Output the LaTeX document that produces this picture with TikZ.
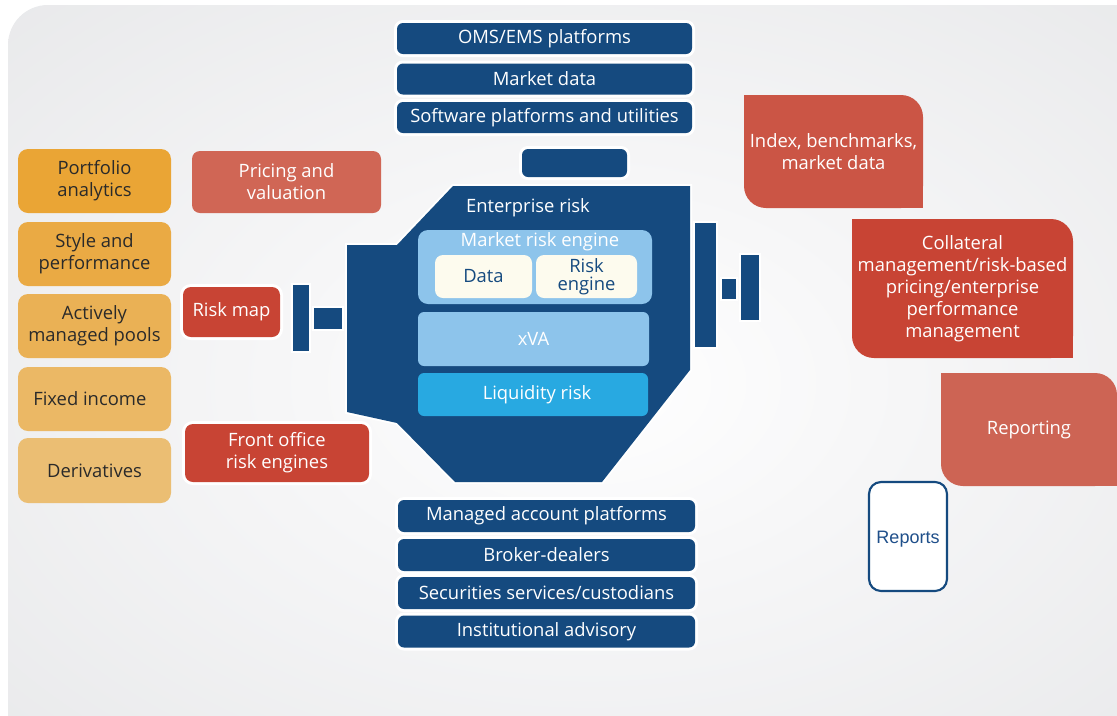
\documentclass[tikz,border=0pt]{standalone}
\usepackage{fontspec}
\setmainfont{Open Sans}
\newfontfamily\reportsfont{Liberation Sans}
\usetikzlibrary{calc}

\definecolor{navy}{HTML}{154A7F}
\definecolor{skyblue}{HTML}{8DC4EB}
\definecolor{liqblue}{HTML}{28A9E1}
\definecolor{cream}{HTML}{FDFBEE}
\definecolor{bggray}{HTML}{E0E1E3}
\definecolor{bgmid}{HTML}{F7F7F8}
\definecolor{orA}{HTML}{EAA535}
\definecolor{orB}{HTML}{EAAA44}
\definecolor{orC}{HTML}{EAB155}
\definecolor{orD}{HTML}{EBB865}
\definecolor{orE}{HTML}{EBBE73}
\definecolor{salmon}{HTML}{D06655}
\definecolor{brick}{HTML}{C84434}
\definecolor{idxred}{HTML}{CB5545}
\definecolor{repred}{HTML}{CD6454}
\definecolor{darktext}{HTML}{2A2A2A}
\definecolor{reptext}{HTML}{1F4F8A}

% soft light centre fading to grey at the edges
\pgfdeclareradialshading{backdrop}{\pgfpoint{0bp}{0bp}}{color(0bp)=(white); color(12bp)=(bgmid); color(50bp)=(bggray)}

\begin{document}
\begin{tikzpicture}[x=0.75pt, y=-0.75pt,
  sz/.style 2 args={minimum width=#1*0.75pt, minimum height=#2*0.75pt},
  base/.style={rectangle, inner sep=0pt, outer sep=0pt, align=center,
    font=\fontsize{13.8}{16.5}\selectfont},
  halo/.style={preaction={draw=white, line width=4.5pt}},
  navybox/.style={base, halo, fill=navy, text=white, rounded corners=4.5pt},
  orangebox/.style={base, text=darktext, rounded corners=7.5pt},
  redbox/.style={base, text=white, rounded corners=6pt},
  bigred/.style={base, text=white, rounded corners=16.5pt},
  plug/.style={fill=navy, preaction={draw=white, line width=3.5pt}},
]
\useasboundingbox (0,0) rectangle (1117,715);
\fill[white] (0,0) rectangle (1117,715);
\path[shading=backdrop, rounded corners=30pt] (8,5) rectangle (1170,760);

% ---- upstream providers
\node[navybox, sz={295}{31}] (oms) at (544.5,38.5) {OMS/EMS platforms};
\node[navybox, sz={295}{31}] (mkt) at (544.5,79) {Market data};
\node[navybox, sz={295}{31}] (sw)  at (544.5,117.5) {Software platforms and utilities};
\node[navybox, sz={105}{28}] (topplug) at (574.5,163) {};

% ---- downstream providers
\node[navybox, sz={297}{32}] (map) at (546.5,516) {Managed account platforms};
\node[navybox, sz={297}{32}] (bd)  at (546.5,555) {Broker-dealers};
\node[navybox, sz={297}{32}] (ssc) at (546.5,593) {Securities services/custodians};
\node[navybox, sz={297}{32}] (ia)  at (546.5,631.5) {Institutional advisory};

% ---- enterprise risk hub
\fill[navy, preaction={draw=white, line width=3pt}]
  (453,186) -- (690,186) -- (690,370) -- (602,482) -- (455,482)
  -- (397,423) -- (347,412) -- (347,245) -- (397,245) -- cycle;
\node[base, text=white] (ent) at (528,208) {Enterprise risk};
\node[base, fill=skyblue, rounded corners=7.5pt, sz={234}{74}] (mre) at (535,267) {};
\node[base, text=white] (mretitle) at (540,242) {Market risk engine};
\node[base, fill=cream, text=navy, rounded corners=6pt, sz={97}{43}] (data) at (483.5,276.5) {Data};
\node[base, fill=cream, text=navy, rounded corners=6pt, sz={101}{43},
  font=\fontsize{13.8}{13.5}\selectfont] (reng) at (586.5,276.5) {Risk\\engine};
\node[base, fill=skyblue, text=white, rounded corners=4.5pt, sz={231}{54}] (xva) at (533.5,339) {xVA};
\node[base, fill=liqblue, text=white, rounded corners=4.5pt, sz={230}{43}] (liq) at (533,394.5) {\hspace*{6pt}Liquidity risk};

% ---- plug bars on both sides of the hub
\path[plug] (293,285) rectangle (309,351);
\path[plug] (314,308) rectangle (342,329);
\path[plug] (695,223) rectangle (716,347);
\path[plug] (722,279) rectangle (736,299);
\path[plug] (741,255) rectangle (759,320);

% ---- asset classes
\node[orangebox, fill=orA, sz={153}{64}] (pa) at (94.5,181) {Portfolio\\analytics};
\node[orangebox, fill=orB, sz={153}{64}] (sp) at (94.5,254) {Style and\\performance};
\node[orangebox, fill=orC, sz={153}{64}] (am) at (94.5,326) {Actively\\managed pools};
\node[orangebox, fill=orD, sz={153}{64}] (fi) at (94.5,399) {Fixed income\hspace*{7pt}};
\node[orangebox, fill=orE, sz={153}{65}] (dv) at (94.5,470.5) {Derivatives};

% ---- front-office functions
\node[redbox, fill=salmon, sz={189}{62}] (pv) at (286.5,182) {Pricing and\\valuation};
\node[redbox, halo, fill=brick, sz={97}{50}] (rm) at (231.5,312) {Risk map};
\node[redbox, halo, fill=brick, sz={184}{58}] (fo) at (277,453) {Front office\\risk engines};

% ---- outputs (rounded on two opposite corners)
\node[bigred, fill=idxred, sz={179}{113}] (idx) at (833.5,151.5) {Index, benchmarks,\\market data};
\fill[idxred] (idx.north west) rectangle ([xshift=20pt, yshift=-20pt]idx.north west);
\fill[idxred] (idx.south east) rectangle ([xshift=-20pt, yshift=20pt]idx.south east);

\node[bigred, fill=brick, sz={221}{139}] (col) at (962.5,288.5)
  {Collateral\\management/risk-based\\pricing/enterprise\\performance\\management};
\fill[brick] (col.north west) rectangle ([xshift=20pt, yshift=-20pt]col.north west);
\fill[brick] (col.south east) rectangle ([xshift=-20pt, yshift=20pt]col.south east);

\node[bigred, fill=repred, sz={176}{113}] (rep) at (1029,429.5) {Reporting};
\fill[repred] (rep.north west) rectangle ([xshift=20pt, yshift=-20pt]rep.north west);
\fill[repred] (rep.south east) rectangle ([xshift=-20pt, yshift=20pt]rep.south east);

\node[base, draw=navy, line width=1.6pt, fill=white, text=reptext, rounded corners=9pt,
  sz={78}{109}, font=\reportsfont\fontsize{13.5}{16}\selectfont] (rpts) at (908,536.5) {};
\node[base, text=reptext, font=\reportsfont\fontsize{13.5}{16}\selectfont] (rptslabel) at (908,539) {Reports};
\end{tikzpicture}
\end{document}
